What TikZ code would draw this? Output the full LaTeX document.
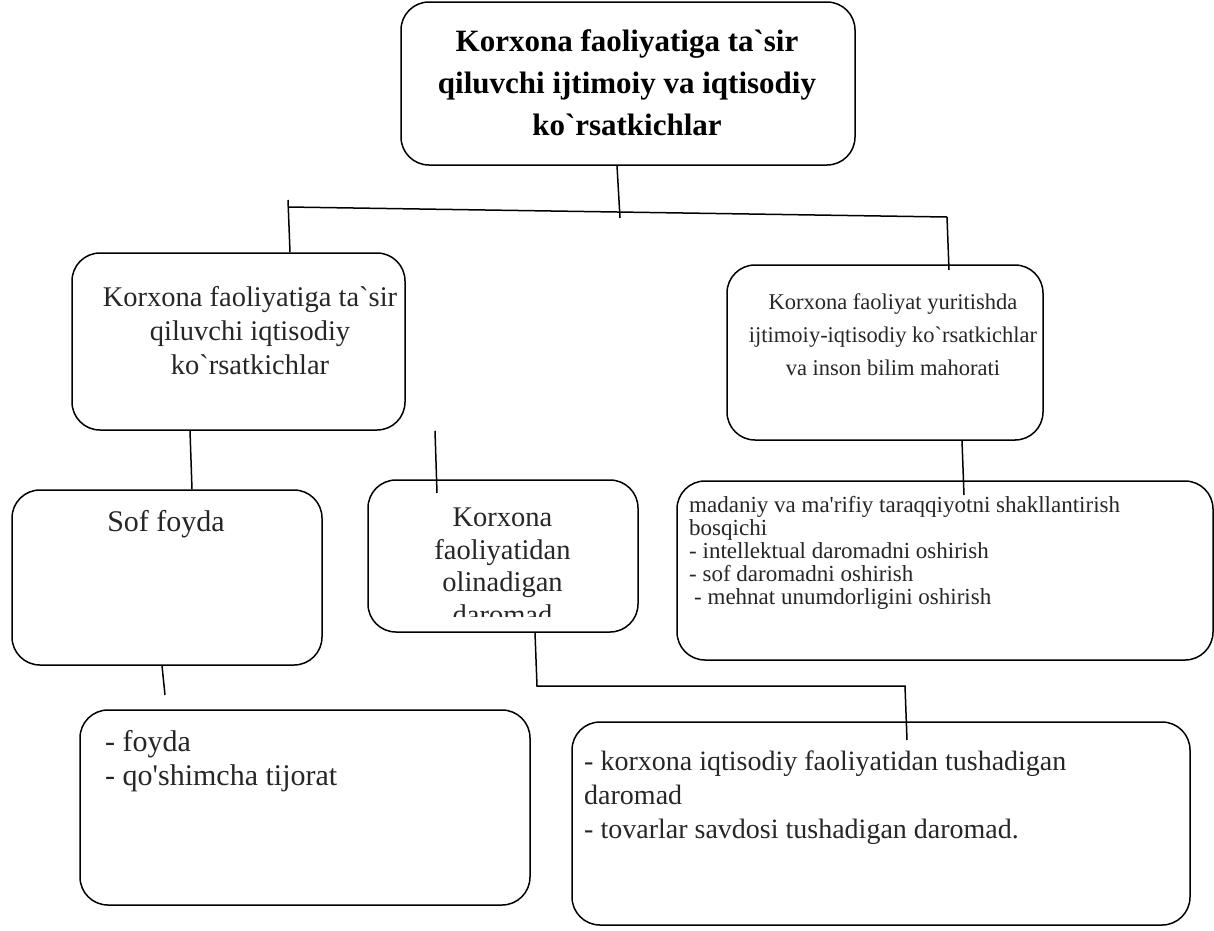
\documentclass[tikz,border=0pt]{standalone}
\usepackage{fontspec}
\setmainfont{Liberation Serif}[Ligatures=TeXOff]
\usetikzlibrary{calc}

\begin{document}
\begin{tikzpicture}[x=1pt, y=-1pt,
	box/.style={draw, line width=1.5pt, rounded corners=28pt, inner sep=0pt},
	txt/.style={inner sep=0pt, text=black!85},
	link/.style={line width=1.5pt}]
	\def\fs#1#2{\fontsize{#1}{#2}\selectfont}
	
	\useasboundingbox (0,0) rectangle (1214,930);
	
	\node [box, minimum width=454pt, minimum height=163pt] (main) at (628,83.5) {};
	\node [box, minimum width=333pt, minimum height=177pt] (econ) at (238.5,341.5) {};
	\node [box, minimum width=316pt, minimum height=175pt] (soc) at (885,352.5) {};
	\node [box, minimum width=310pt, minimum height=175pt] (net) at (167,577.5) {};
	\node [box, minimum width=270pt, minimum height=152pt] (inc) at (503,556) {};
	\node [box, minimum width=536pt, minimum height=179pt] (cult) at (945,570.5) {};
	\node [box, minimum width=450pt, minimum height=195pt] (prof) at (305,807.5) {};
	\node [box, minimum width=618pt, minimum height=203pt] (rev) at (881,823.5) {};
	
	\node [txt, anchor=north, align=center, text=black, font=\fs{31}{42}\bfseries] (maintxt) at (627,29)
		{Korxona faoliyatiga ta`sir\\qiluvchi ijtimoiy va iqtisodiy\\ko`rsatkichlar};
	\node [txt, anchor=north, align=center, font=\fs{28.5}{34}] (econtxt) at (250,286)
		{Korxona faoliyatiga ta`sir\\qiluvchi iqtisodiy\\ko`rsatkichlar};
	\node [txt, anchor=north, align=center, font=\fs{22.5}{33}] (soctxt) at (893,293.5)
		{Korxona faoliyat yuritishda\\ijtimoiy-iqtisodiy ko`rsatkichlar\\va inson bilim mahorati};
	\node [txt, anchor=base, font=\fs{30}{36}] (nettxt) at (166,531) {Sof foyda};
	\begin{scope}
		\clip (inc.north west) rectangle ($(inc.south east)+(0,-16)$);
		\node [txt, anchor=north, align=center, font=\fs{28.5}{32.5}] (inctxt) at (502.5,508)
			{Korxona\\faoliyatidan\\olinadigan\\daromad};
	\end{scope}
	\node [txt, anchor=north west, align=left, font=\fs{23}{23}] (culttxt) at (689,496)
		{madaniy va ma'rifiy taraqqiyotni shakllantirish\\bosqichi\\- intellektual daromadni oshirish\\- sof daromadni oshirish\\\hspace*{5pt}- mehnat unumdorligini oshirish};
	\node [txt, anchor=north west, align=left, font=\fs{30}{34}] (proftxt) at (105,730.5)
		{- foyda\\- qo'shimcha tijorat};
	\node [txt, anchor=north west, align=left, font=\fs{28}{34}] (revtxt) at (584,751)
		{- korxona iqtisodiy faoliyatidan tushadigan\\daromad\\- tovarlar savdosi tushadigan daromad.};
	
	\coordinate (busL) at (288,207);
	\coordinate (busR) at (947,217);
	\draw [link] (busL) -- (busR);
	\draw [link] (main.south -| 617,0) -- (620,218);
	\draw [link] (288,200) -- (econ.north -| 290,0);
	\draw [link] (busR) -- (949,270);
	\draw [link] (econ.south -| 190,0) -- (net.north -| 192,0);
	\draw [link] (econ.south -| 435,0) -- (437,493);
	\draw [link] (soc.south -| 962,0) -- (964,495);
	\draw [link] (net.south -| 162,0) -- (165,695);
	\draw [link] (inc.south -| 535,0) -- (537,686) -- (905,686) -- (907,740);
\end{tikzpicture}
\end{document}
